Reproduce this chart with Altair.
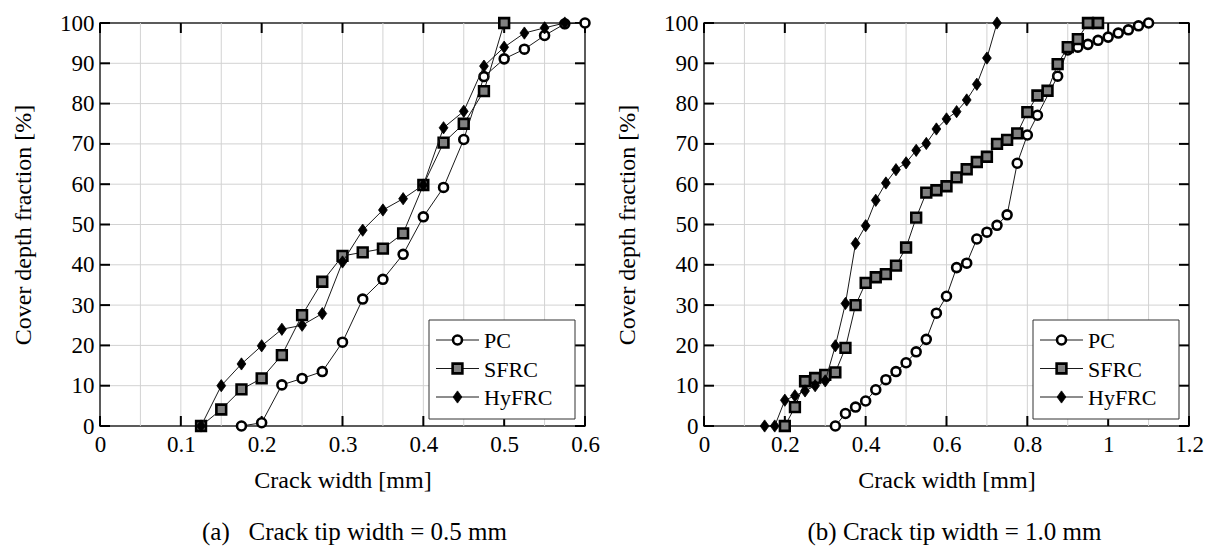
import altair as alt
import pandas as pd

# ---------------- data ----------------
series_names = ["PC", "SFRC", "HyFRC"]

# panel (a): crack tip width = 0.5 mm
pc_a_x = [0.175, 0.2, 0.225, 0.25, 0.275, 0.3, 0.325, 0.35, 0.375, 0.4, 0.425, 0.45,
          0.475, 0.5, 0.525, 0.55, 0.575, 0.6]
pc_a_y = [0, 0.8, 10.2, 11.8, 13.5, 20.8, 31.5, 36.4, 42.6, 51.9, 59.2, 71.1,
          86.7, 91.1, 93.5, 96.9, 99.8, 100]
sfrc_a_x = [0.125, 0.15, 0.175, 0.2, 0.225, 0.25, 0.275, 0.3, 0.325, 0.35, 0.375, 0.4,
            0.425, 0.45, 0.475, 0.5]
sfrc_a_y = [0, 4.1, 9.1, 11.8, 17.6, 27.5, 35.8, 42.2, 43.1, 44.0, 47.8, 59.8,
            70.3, 75.0, 83.1, 100]
hyfrc_a_x = [0.125, 0.15, 0.175, 0.2, 0.225, 0.25, 0.275, 0.3, 0.325, 0.35, 0.375, 0.4,
             0.425, 0.45, 0.475, 0.5, 0.525, 0.55, 0.575]
hyfrc_a_y = [0, 10.0, 15.4, 19.9, 24.0, 25.0, 27.9, 40.7, 48.6, 53.6, 56.4, 59.8,
             74.0, 78.1, 89.3, 94.0, 97.5, 98.8, 100]

# panel (b): crack tip width = 1.0 mm
pc_b_x = [0.325, 0.35, 0.375, 0.4, 0.425, 0.45, 0.475, 0.5, 0.525, 0.55, 0.575, 0.6,
          0.625, 0.65, 0.675, 0.7, 0.725, 0.75, 0.775, 0.8, 0.825, 0.875, 0.9, 0.925,
          0.95, 0.975, 1.0, 1.025, 1.05, 1.075, 1.1]
pc_b_y = [0, 3.1, 4.7, 6.2, 9.0, 11.5, 13.5, 15.7, 18.4, 21.5, 28.0, 32.2,
          39.3, 40.4, 46.4, 48.1, 49.8, 52.4, 65.2, 72.2, 77.1, 86.8, 93.3, 94.0,
          94.7, 95.7, 96.5, 97.5, 98.3, 99.3, 100]
sfrc_b_x = [0.2, 0.225, 0.25, 0.275, 0.3, 0.325, 0.35, 0.375, 0.4, 0.425, 0.45, 0.475,
            0.5, 0.525, 0.55, 0.575, 0.6, 0.625, 0.65, 0.675, 0.7, 0.725, 0.75, 0.775,
            0.8, 0.825, 0.85, 0.875, 0.9, 0.925, 0.95, 0.975]
sfrc_b_y = [0, 4.7, 11.1, 11.9, 12.7, 13.3, 19.4, 30.0, 35.5, 36.9, 37.7, 39.8,
            44.3, 51.7, 57.9, 58.5, 59.5, 61.7, 63.7, 65.5, 66.8, 70.0, 71.0, 72.6,
            77.9, 82.0, 83.2, 89.8, 94.0, 96.0, 100, 100]
hyfrc_b_x = [0.15, 0.175, 0.2, 0.225, 0.25, 0.275, 0.3, 0.325, 0.35, 0.375, 0.4, 0.425,
             0.45, 0.475, 0.5, 0.525, 0.55, 0.575, 0.6, 0.625, 0.65, 0.675, 0.7, 0.725]
hyfrc_b_y = [0, 0, 6.4, 7.5, 8.7, 10.0, 11.2, 19.9, 30.4, 45.3, 49.7, 56.0,
             60.3, 63.6, 65.3, 68.4, 70.1, 73.7, 76.2, 78.0, 80.9, 84.8, 91.3, 100]

x_ticks_a = [0, 0.1, 0.2, 0.3, 0.4, 0.5, 0.6]
x_grid_a = [0.05, 0.1, 0.15, 0.2, 0.25, 0.3, 0.35, 0.4, 0.45, 0.5, 0.55]
x_ticks_b = [0, 0.2, 0.4, 0.6, 0.8, 1.0, 1.2]
x_grid_b = [0.1, 0.2, 0.3, 0.4, 0.5, 0.6, 0.7, 0.8, 0.9, 1.0, 1.1]
y_ticks = [0, 10, 20, 30, 40, 50, 60, 70, 80, 90, 100]
y_grid = [10, 20, 30, 40, 50, 60, 70, 80, 90]

x_title = "Crack width [mm]"
y_title = "Cover depth fraction [%]"
captions = ["(a)\u00a0\u00a0\u00a0Crack tip width = 0.5 mm", "(b) Crack tip width = 1.0 mm"]

# ---------------- styling ----------------
W, H = 485, 403
FONT = "Liberation Serif"
CAP_FONT = "Liberation Serif"
DIAMOND = "M0,-1L0.72,0L0,1L-0.72,0Z"
styles = {
    "PC": dict(shape="circle", fill="white", size=80, strokeWidth=2.6),
    "SFRC": dict(shape="square", fill="#808080", size=95, strokeWidth=2.6),
    "HyFRC": dict(shape=DIAMOND, fill="black", size=150, strokeWidth=0.8),
}
legend_rows = {"PC": 317, "SFRC": 345.5, "HyFRC": 374}


def panel(data, xmax, x_ticks, x_grid, caption, dx):
    xs = alt.Scale(domain=[0, xmax], nice=False, zero=False)
    ys = alt.Scale(domain=[0, 100], nice=False, zero=False)
    xaxis = alt.Axis(values=x_ticks, format="~g", title=x_title, ticks=False, domain=False,
                     grid=False, labelPadding=7, titlePadding=12, labelFlush=False)
    yaxis = alt.Axis(values=y_ticks, format="d", title=y_title, ticks=False, domain=False,
                     grid=False, labelPadding=6, titlePadding=24)

    def X(f):
        return alt.X(f, scale=xs, axis=xaxis, title=x_title)

    def Y(f):
        return alt.Y(f, scale=ys, axis=yaxis, title=y_title)

    layers = []
    tx = pd.DataFrame({"tx": x_ticks})
    ty = pd.DataFrame({"ty": y_ticks})
    layers.append(
        alt.Chart(pd.DataFrame({"gx": x_grid})).mark_rule(color="#d2d2d2", strokeWidth=1)
        .encode(x=X("gx:Q"))
    )
    layers.append(
        alt.Chart(pd.DataFrame({"gy": y_grid})).mark_rule(color="#d2d2d2", strokeWidth=1)
        .encode(y=Y("gy:Q"))
    )
    # inward major ticks on all four sides
    for yc in [H - 5, 5]:
        layers.append(
            alt.Chart(tx).mark_tick(color="black", thickness=2, size=10,
                                    orient="vertical", opacity=1)
            .encode(x=X("tx:Q"), y=alt.value(yc))
        )
    for xc in [5, W - 5]:
        layers.append(
            alt.Chart(ty).mark_tick(color="black", thickness=2, size=10,
                                    orient="horizontal", opacity=1)
            .encode(y=Y("ty:Q"), x=alt.value(xc))
        )

    for name, (xv, yv) in zip(series_names, data):
        st = styles[name]
        df = pd.DataFrame({"x": xv, "y": yv, "series": name})
        base = alt.Chart(df).encode(x=X("x:Q"), y=Y("y:Q"))
        layers.append(base.mark_line(color="#1a1a1a", strokeWidth=1))
        layers.append(base.mark_point(shape=st["shape"], filled=True, fill=st["fill"],
                                      stroke="black", strokeWidth=st["strokeWidth"],
                                      size=st["size"], opacity=1))

    # legend (box, line samples, markers, labels)
    ldf = pd.DataFrame({"series": series_names})
    layers.append(
        alt.Chart(ldf.head(1)).mark_rect(fill="white", stroke="#333333", strokeWidth=1)
        .encode(x=alt.value(329), x2=alt.value(475), y=alt.value(297), y2=alt.value(396))
    )
    for name in series_names:
        st = styles[name]
        one = pd.DataFrame({"series": [name]})
        ry = legend_rows[name]
        layers.append(
            alt.Chart(one).mark_rule(color="#1a1a1a", strokeWidth=1)
            .encode(x=alt.value(336), x2=alt.value(379), y=alt.value(ry))
        )
        layers.append(
            alt.Chart(one).mark_point(shape=st["shape"], filled=True, fill=st["fill"],
                                      stroke="black", strokeWidth=st["strokeWidth"],
                                      size=st["size"], opacity=1)
            .encode(x=alt.value(357.5), y=alt.value(ry))
        )
        layers.append(
            alt.Chart(one).mark_text(align="left", baseline="middle", font=FONT,
                                     fontSize=22, color="black")
            .encode(x=alt.value(384), y=alt.value(ry + 1), text="series:N")
        )

    return alt.layer(*layers).properties(
        width=W, height=H,
        title=alt.TitleParams(caption, orient="bottom", anchor="middle", font=CAP_FONT,
                              fontSize=25, fontWeight="normal", color="black",
                              offset=28, dx=dx),
    )


left = panel([(pc_a_x, pc_a_y), (sfrc_a_x, sfrc_a_y), (hyfrc_a_x, hyfrc_a_y)],
             0.6, x_ticks_a, x_grid_a, captions[0], 12)
right = panel([(pc_b_x, pc_b_y), (sfrc_b_x, sfrc_b_y), (hyfrc_b_x, hyfrc_b_y)],
              1.2, x_ticks_b, x_grid_b, captions[1], 8)

chart = (
    alt.hconcat(left, right, spacing=13)
    .properties(padding={"left": 10, "top": 11, "right": 0, "bottom": 0}, background="white")
    .configure_view(stroke="#262626", strokeWidth=1.5)
    .configure_axis(labelFont=FONT, labelFontSize=23, labelColor="black",
                    titleFont=FONT, titleFontSize=24, titleFontWeight="normal",
                    titleColor="black")
)

chart.save("out.html", embed_options={"renderer": "svg", "actions": False})
